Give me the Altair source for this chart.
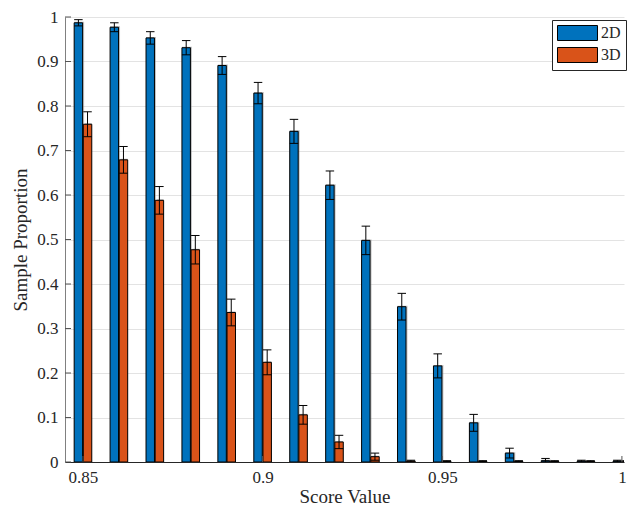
import altair as alt
import pandas as pd

# ---- data ----
scores = [0.85, 0.86, 0.87, 0.88, 0.89, 0.90, 0.91, 0.92,
          0.93, 0.94, 0.95, 0.96, 0.97, 0.98, 0.99, 1.00]
prop_2d = [0.987, 0.977, 0.953, 0.931, 0.891, 0.829, 0.743, 0.622,
           0.498, 0.349, 0.216, 0.088, 0.020, 0.003, 0.002, 0.002]
err_2d = [0.007, 0.010, 0.014, 0.016, 0.020, 0.024, 0.027, 0.032,
          0.032, 0.030, 0.027, 0.019, 0.011, 0.005, 0.002, 0.002]
prop_3d = [0.759, 0.679, 0.588, 0.477, 0.336, 0.224, 0.106, 0.045,
           0.012, 0.002, 0.001, 0.001, 0.001, 0.001, 0.001, 0.001]
err_3d = [0.028, 0.030, 0.031, 0.032, 0.030, 0.028, 0.021, 0.015,
          0.008, 0.002, 0.002, 0.002, 0.002, 0.002, 0.002, 0.002]
series_names = ["2D", "3D"]
series_colors = ["#0072BD", "#D95319"]
x_tick_values = [0.85, 0.9, 0.95, 1.0]
y_tick_values = [0, 0.1, 0.2, 0.3, 0.4, 0.5, 0.6, 0.7, 0.8, 0.9, 1.0]

rows = []
for s, p2, e2, p3, e3 in zip(scores, prop_2d, err_2d, prop_3d, err_3d):
    rows.append({"score": s, "series": series_names[0], "prop": p2, "err": e2})
    rows.append({"score": s, "series": series_names[1], "prop": p3, "err": e3})
df = pd.DataFrame(rows)

FONT = "Liberation Serif"
TXT = "#262626"
W, H = 559, 445

x_scale = alt.Scale(domain=[0.845, 1.00058], nice=False, zero=False)
y_scale = alt.Scale(domain=[0, 1], nice=False, zero=True)
x_axis = alt.Axis(values=x_tick_values, format="~g", grid=False, ticks=False,
                  labelPadding=7, titlePadding=2, domainColor="#262626")
y_axis = alt.Axis(values=y_tick_values, format="~g", grid=True, gridColor="#e3e3e3",
                  ticks=False, labelPadding=7, titlePadding=6, domainColor="#808080")
X_TITLE = "Score Value"
Y_TITLE = "Sample Proportion"


def xq(field):
    return alt.X(field, scale=x_scale, axis=x_axis, title=X_TITLE)


def yq(field):
    return alt.Y(field, scale=y_scale, axis=y_axis, title=Y_TITLE)


base = alt.Chart(df).transform_calculate(
    side="datum.series == '2D' ? -1 : 1",
    base0="0",
).transform_calculate(
    x0="datum.score + datum.side * 0.0001",
    x1="datum.score + datum.side * 0.00245",
    xc="datum.score + datum.side * 0.00127",
).transform_calculate(
    cap0="datum.xc - 0.00118",
    cap1="datum.xc + 0.00118",
    lo="max(0, datum.prop - datum.err)",
    hi="datum.prop + datum.err",
)

shadow = base.mark_bar(color="#8c8c8c", opacity=0.55, xOffset=1.5, yOffset=-1, clip=True).encode(
    x=xq("x0:Q"), x2="x1:Q",
    y=yq("prop:Q"), y2="base0:Q",
)

bars = base.mark_bar(stroke="black", strokeWidth=1, opacity=1, clip=True).encode(
    x=xq("x0:Q"), x2="x1:Q",
    y=yq("prop:Q"), y2="base0:Q",
    color=alt.Color("series:N", scale=alt.Scale(domain=series_names, range=series_colors),
                    legend=alt.Legend(title=None, orient="none", legendX=487, legendY=3,
                                      symbolType="M-1,-1H4.333V1H-1Z", symbolSize=225,
                                      symbolStrokeColor="black", symbolStrokeWidth=1,
                                      symbolOpacity=1, labelFont=FONT, labelFontSize=16,
                                      labelColor=TXT, labelOffset=28, rowPadding=2,
                                      padding=5, strokeColor="#262626", fillColor="white")),
)

err_line = base.mark_rule(color="black", strokeWidth=1, clip=True).encode(
    x=xq("xc:Q"),
    y=yq("lo:Q"), y2="hi:Q",
)
cap_hi = base.mark_rule(color="black", strokeWidth=1, clip=True).encode(
    x=xq("cap0:Q"), x2="cap1:Q",
    y=yq("hi:Q"),
)
cap_lo = base.mark_rule(color="black", strokeWidth=1, clip=True).encode(
    x=xq("cap0:Q"), x2="cap1:Q",
    y=yq("lo:Q"),
)

yt = alt.Chart(pd.DataFrame({"v": y_tick_values})).mark_rule(color="#555555", strokeWidth=1).encode(
    y=yq("v:Q"),
    x=alt.value(0), x2=alt.value(6),
)
xt = alt.Chart(pd.DataFrame({"v": x_tick_values})).mark_rule(color="#555555", strokeWidth=1).encode(
    x=xq("v:Q"),
    y=alt.value(H), y2=alt.value(H - 6),
)

chart = alt.layer(shadow, bars, err_line, cap_hi, cap_lo, yt, xt).properties(
    width=W, height=H,
    padding={"left": 57, "top": 9, "right": 3, "bottom": 46},
    autosize=alt.AutoSizeParams(type="none"),
).configure_view(
    stroke="transparent"
).configure_axis(
    labelFont=FONT, labelFontSize=17, labelColor=TXT,
    titleFont=FONT, titleFontSize=19, titleColor=TXT, titleFontWeight="normal",
    domainWidth=1,
)

chart.save("out.html", embed_options={"renderer": "svg", "actions": False})
